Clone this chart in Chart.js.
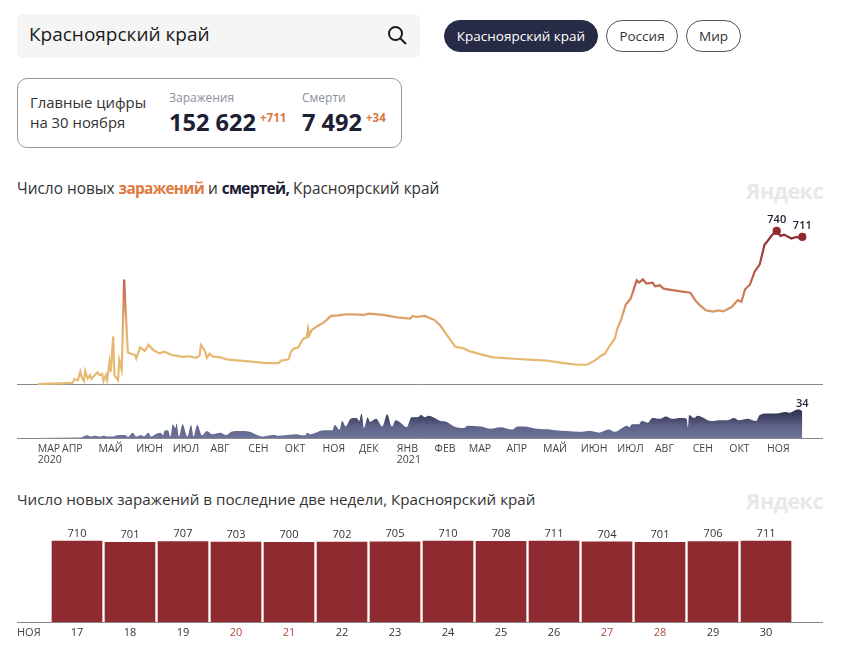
<!DOCTYPE html>
<html lang="ru">
<head>
<meta charset="utf-8">
<title>Красноярский край</title>
<script src="https://cdn.jsdelivr.net/npm/chart.js@4"></script>
<style>
    html, body { margin: 0; padding: 0; background: #fff; }
    body { position: relative; width: 843px; height: 657px; overflow: hidden; font-family: "Open Sans", sans-serif; color: #1c2033; }
    .abs { position: absolute; white-space: nowrap; }
    canvas { position: absolute; left: 17px; }
    .search { left: 17px; top: 14px; width: 403px; height: 44px; background: #f5f5f5; border-radius: 6px; }
    .search span { position: absolute; left: 12px; top: 6px; font-size: 19px; line-height: 28px; color: #1a1a1a; }
    .search svg { position: absolute; left: 369px; top: 10px; }
    .pill { top: 20px; height: 30px; line-height: 30px; border: 1px solid #555; border-radius: 16px; text-align: center; font-size: 13.5px; color: #333; }
    .pill.active { background: #272b45; border-color: #272b45; color: #fff; }
    .card { left: 17px; top: 78px; width: 383px; height: 68px; border: 1px solid #999; border-radius: 10px; }
    .label { font-size: 14.9px; line-height: 20px; color: #333; }
    .small { font-size: 12px; color: #8a8f9c; }
    .big { font-size: 23.6px; line-height: 30px; font-weight: 700; color: #1c2033; }
    .plus { font-size: 11.5px; font-weight: 700; color: #d9773f; }
    .title { left: 17px; font-size: 15.2px; line-height: 20px; color: #333; }
    .title.first { font-size: 15.4px; }
    .title b { letter-spacing: -0.7px; }
    .title b.orange { color: #dd7a3c; }
    .title b.dark { color: #1c2033; }
    .mark { left: 740px; width: 83px; text-align: right; font-size: 21.5px; line-height: 26px; font-weight: 700; color: #e8e8e8; letter-spacing: -0.5px; }
    .nov { left: 17px; top: 625px; font-size: 11px; line-height: 14px; color: #444; }
</style>
</head>
<body>
<div class="abs search"><span>Красноярский край</span>
    <svg width="22" height="22" viewBox="0 0 22 22" fill="none" stroke="#1a1a1a" stroke-width="2"><circle cx="9.5" cy="9.5" r="6.5"/><line x1="14.5" y1="14.5" x2="20" y2="20"/></svg>
</div>
<div class="abs pill active" style="left:444px;width:152px">Красноярский край</div>
<div class="abs pill" style="left:606px;width:70px">Россия</div>
<div class="abs pill" style="left:686px;width:53px">Мир</div>

<div class="abs card"></div>
<div class="abs label" style="left:30px;top:92px">Главные цифры<br>на 30 ноября</div>
<div class="abs small" style="left:169px;top:89px">Заражения</div>
<div class="abs big" style="left:169px;top:107px">152 622</div>
<div class="abs plus" style="left:260px;top:110px">+711</div>
<div class="abs small" style="left:302px;top:89px">Смерти</div>
<div class="abs big" style="left:302px;top:107px">7 492</div>
<div class="abs plus" style="left:366px;top:110px">+34</div>

<div class="abs title first" style="top:179px">Число новых <b class="orange">заражений</b> и <b class="dark">смертей,</b> Красноярский край</div>
<div class="abs mark" style="top:178px">Яндекс</div>
<canvas id="casesChart" width="806" height="185" style="top:204px"></canvas>
<canvas id="deathsChart" width="806" height="75" style="top:395px"></canvas>

<div class="abs title" style="top:489px">Число новых заражений в последние две недели, Красноярский край</div>
<div class="abs mark" style="top:488px">Яндекс</div>
<canvas id="lastChart" width="806" height="130" style="top:515px"></canvas>
<div class="abs nov">НОЯ</div>

<script>
// x positions are days counted from the first reported day in March 2020
const caseDays = [0, 10, 18, 28, 29, 30, 33, 35, 36, 38, 39, 41, 43, 44, 46, 49, 51, 53, 54, 56, 57, 59, 60, 62, 63, 66, 67, 69, 71, 74,
    76, 80, 81, 84, 88, 91, 95, 100, 104, 110, 119, 124, 130, 133, 134, 137, 139, 141, 144, 150, 155, 166, 180, 188, 198, 200, 206, 208, 210, 214,
    218, 221, 222, 223, 225, 229, 235, 241, 247, 251, 256, 268, 272, 284, 295, 306, 308, 311, 318, 326, 331, 337, 343, 350, 354, 364, 374, 391, 407, 418,
    432, 443, 451, 457, 462, 466, 470, 474, 476, 479, 483, 487, 492, 494, 497, 500, 505, 507, 511, 514, 520, 528, 536, 540, 544, 549, 555, 559, 563, 567,
    570, 575, 578, 581, 585, 589, 593, 597, 599, 603, 607, 610, 613, 619, 623, 625, 628];
const caseValues = [0, 2, 3, 5, 8, 24, 18, 60, 35, 14, 63, 27, 43, 24, 38, 56, 43, 48, 14, 43, 19, 105, 60, 230, 43, 19, 115, 68, 505, 153,
    147, 140, 124, 176, 160, 189, 164, 148, 156, 140, 131, 134, 127, 137, 189, 164, 127, 147, 132, 129, 119, 113, 106, 101, 101, 113, 119, 156, 169, 177,
    218, 226, 266, 234, 261, 277, 298, 329, 332, 335, 337, 334, 340, 334, 322, 316, 329, 324, 329, 309, 280, 229, 180, 172, 160, 143, 129, 122, 117, 113,
    101, 93, 93, 111, 134, 147, 187, 219, 267, 308, 384, 412, 501, 490, 506, 485, 490, 472, 477, 461, 455, 448, 441, 405, 380, 356, 350, 356, 351, 363,
    372, 406, 397, 458, 480, 545, 577, 674, 687, 719, 740, 716, 722, 703, 711, 707, 711];
const markedCaseDays = [607, 628];

const deathDays = [0, 35, 39, 41, 43, 47, 51, 54, 58, 62, 65, 72, 74, 78, 81, 85, 87, 91, 93, 98, 101, 103, 104, 107, 109, 111, 113, 114, 116, 119,
    123, 126, 128, 131, 135, 139, 143, 150, 155, 159, 166, 174, 180, 185, 191, 195, 197, 205, 213, 215, 220, 221, 224, 235, 242, 244, 248, 250, 253, 257,
    262, 264, 266, 268, 271, 273, 278, 283, 287, 291, 294, 298, 303, 307, 312, 315, 318, 321, 326, 331, 336, 342, 350, 353, 364, 372, 380, 390, 394, 399,
    410, 421, 425, 435, 444, 454, 461, 469, 474, 480, 484, 486, 488, 494, 496, 501, 505, 511, 516, 521, 528, 533, 534, 535, 539, 542, 547, 553, 561, 566,
    572, 576, 583, 590, 593, 599, 607, 614, 618, 624, 627, 628];
const deathValues = [0, 0.5, 3, 3.5, 2, 3, 2, 3, 2, 2, 3.5, 4, 1.5, 7, 2, 4, 2, 7, 2, 6, 7, 3.5, 9, 10, 2, 18, 13, 19, 2, 18,
    2, 17, 2, 17, 3.5, 9, 5, 7, 4, 8, 9, 8, 4, 2, 3.5, 4, 3, 4, 5, 4, 3.5, 7, 5, 10, 10, 17, 11, 22, 15, 25,
    26, 22, 32, 13, 27, 21, 25, 15, 31, 15, 23, 20, 14, 27, 27, 30, 27, 29, 26, 22, 21, 15, 13, 16, 15, 12, 14, 11, 15, 15,
    12, 11, 10, 9, 8, 9, 7, 11, 8, 13, 16, 14, 18, 18, 22, 20, 26, 25, 28, 25, 26, 25, 14, 30, 26, 29, 26, 22, 23, 23,
    26, 23, 25, 22, 30, 32, 32, 34, 33, 37, 36, 34];
const lastDeathDay = 628;

const monthDays = [0, 20, 50, 81, 111, 142, 173, 203, 234, 264, 295, 326, 354, 385, 415, 446, 476, 507, 538, 568, 599];
const monthLabels = ['МАР', 'АПР', 'МАЙ', 'ИЮН', 'ИЮЛ', 'АВГ', 'СЕН', 'ОКТ', 'НОЯ', 'ДЕК', 'ЯНВ', 'ФЕВ', 'МАР', 'АПР', 'МАЙ', 'ИЮН', 'ИЮЛ', 'АВГ', 'СЕН', 'ОКТ', 'НОЯ'];
const yearLabels = { 0: '2020', 295: '2021' };

const novDays = [17, 18, 19, 20, 21, 22, 23, 24, 25, 26, 27, 28, 29, 30];
const novCases = [710, 701, 707, 703, 700, 702, 705, 710, 708, 711, 704, 701, 706, 711];
const weekendDays = [20, 21, 27, 28];

const FONT = '"Open Sans", sans-serif';
const BASE_LINE = '#8a8a8a';

function pairs(xs, ys) {
    return xs.map((x, i) => ({ x, y: ys[i] }));
}

function valueGradient(chart, topValue, stops) {
    const { ctx, scales } = chart;
    const g = ctx.createLinearGradient(0, scales.y.getPixelForValue(0), 0, scales.y.getPixelForValue(topValue));
    stops.forEach(([at, color]) => g.addColorStop(at, color));
    return g;
}

// writes the numbers above the chosen points
const valueLabels = {
    id: 'valueLabels',
    afterDatasetsDraw(chart, args, opts) {
        const { ctx } = chart;
        const meta = chart.getDatasetMeta(0);
        ctx.save();
        ctx.font = opts.font;
        ctx.fillStyle = opts.color;
        ctx.textAlign = 'center';
        ctx.textBaseline = 'bottom';
        meta.data.forEach((el, i) => {
            const point = chart.data.datasets[0].data[i];
            if (opts.days.includes(point.x)) {
                ctx.fillText(point.y, el.x, el.y - opts.gap);
            }
        });
        ctx.restore();
    }
};

const hiddenY = { display: false, min: 0 };
const chartLayout = { padding: 0, autoPadding: false };

new Chart(document.getElementById('casesChart'), {
    type: 'line',
    data: {
        datasets: [{
            data: pairs(caseDays, caseValues),
            borderWidth: 2.2,
            tension: 0,
            borderColor: c => c.chart.chartArea ? valueGradient(c.chart, 740, [
                [0, '#e8bb74'], [0.3, '#e6b670'], [0.45, '#dc9f66'], [0.68, '#c0604a'], [0.88, '#9c3636'], [1, '#8f2b30']
            ]) : '#e8bb74',
            pointRadius: c => c.raw && markedCaseDays.includes(c.raw.x) ? 3 : 0,
            pointBackgroundColor: '#8f2b30',
            pointBorderColor: '#8f2b30',
            clip: false
        }]
    },
    options: {
        responsive: false,
        animation: false,
        layout: chartLayout,
        plugins: {
            legend: { display: false },
            tooltip: { enabled: false },
            valueLabels: { days: markedCaseDays, font: '600 11px ' + FONT, color: '#1c2033', gap: 6 }
        },
        scales: {
            x: {
                type: 'linear', min: -17, max: 645,
                grid: { display: false, drawTicks: false },
                border: { color: BASE_LINE },
                afterFit: axis => { axis.height = 5; },
                ticks: { display: false }
            },
            y: { ...hiddenY, max: 870 }
        }
    },
    plugins: [valueLabels]
});

new Chart(document.getElementById('deathsChart'), {
    type: 'line',
    data: {
        datasets: [{
            data: pairs(deathDays, deathValues),
            borderWidth: 0,
            cubicInterpolationMode: 'monotone',
            pointRadius: 0,
            fill: 'origin',
            backgroundColor: c => c.chart.chartArea ? valueGradient(c.chart, 37, [
                [0, '#6e739b'], [0.4, '#5f6389'], [0.75, '#3f4262'], [1, '#2c2f4b']
            ]) : '#6e739b'
        }]
    },
    options: {
        responsive: false,
        animation: false,
        layout: chartLayout,
        plugins: {
            legend: { display: false },
            tooltip: { enabled: false },
            valueLabels: { days: [lastDeathDay], font: '600 11px ' + FONT, color: '#1c2033', gap: 3 }
        },
        scales: {
            x: {
                type: 'linear', min: -17, max: 645,
                grid: { display: false, drawTicks: false },
                border: { color: BASE_LINE },
                afterBuildTicks: axis => { axis.ticks = monthDays.map(value => ({ value })); },
                afterFit: axis => { axis.height = 32; },
                ticks: {
                    autoSkip: false, maxRotation: 0, align: 'start', padding: 6,
                    color: '#444',
                    font: { family: FONT, size: 10.5, lineHeight: 1 },
                    callback: value => {
                        const label = monthLabels[monthDays.indexOf(value)];
                        return yearLabels[value] ? [label, yearLabels[value]] : label;
                    }
                }
            },
            y: { ...hiddenY, max: 56 }
        }
    },
    plugins: [valueLabels]
});

new Chart(document.getElementById('lastChart'), {
    type: 'bar',
    data: {
        datasets: [{
            data: pairs(novDays, novCases),
            backgroundColor: '#8f2b30',
            barThickness: 50
        }]
    },
    options: {
        responsive: false,
        animation: false,
        layout: chartLayout,
        plugins: {
            legend: { display: false },
            tooltip: { enabled: false },
            valueLabels: { days: novDays, font: '11px ' + FONT, color: '#333', gap: 2 }
        },
        scales: {
            x: {
                type: 'linear', min: 15.868, max: 31.075, offset: false,
                grid: { display: false, drawTicks: false },
                border: { color: BASE_LINE },
                afterBuildTicks: axis => { axis.ticks = novDays.map(value => ({ value })); },
                afterFit: axis => { axis.height = 23; },
                ticks: {
                    autoSkip: false, maxRotation: 0, padding: 4,
                    font: { family: FONT, size: 11 },
                    color: c => weekendDays.includes(c.tick.value) ? '#b0483f' : '#333'
                }
            },
            y: { ...hiddenY, max: 940 }
        }
    },
    plugins: [valueLabels]
});
</script>
</body>
</html>
